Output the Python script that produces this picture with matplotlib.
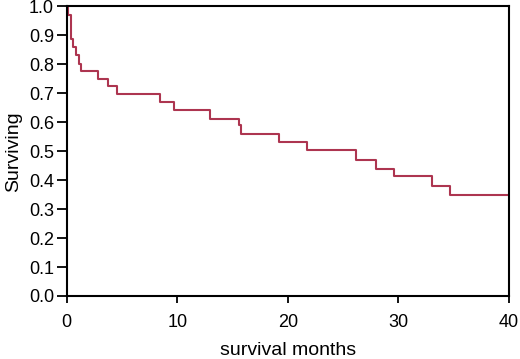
import matplotlib
matplotlib.use("Agg")
import matplotlib.pyplot as plt
import matplotlib.ticker as mtick

plt.rcParams["font.family"] = ["Liberation Sans", "DejaVu Sans"]

# Kaplan-Meier step points (time in months, survival fraction)
times = [0, 0.1, 0.39, 0.6, 0.81, 1.11, 1.35, 2.8, 3.76, 4.57, 8.43, 9.69,
         12.95, 15.57, 15.8, 19.2, 21.7, 26.15, 27.95, 29.58, 33.04, 34.64, 40]
surv = [1.0, 0.969, 0.888, 0.86, 0.831, 0.802, 0.777, 0.748, 0.724, 0.697,
        0.670, 0.641, 0.613, 0.59, 0.558, 0.532, 0.503, 0.471, 0.44, 0.414,
        0.38, 0.348, 0.348]

LINE = "#AD3550"

fig = plt.figure(figsize=(5.2, 3.59), dpi=100)
ax = fig.add_axes([0.128, 0.1755, 0.851, 0.8065])
ax.step(times, surv, where="post", color=LINE, linewidth=1.5)

ax.set_xlim(0, 40)
ax.set_ylim(0, 1.0)
ax.set_xticks([0, 10, 20, 30, 40])
ax.set_yticks([i / 10 for i in range(11)])
ax.yaxis.set_major_formatter(mtick.FormatStrFormatter("%.1f"))
ax.tick_params(direction="out", width=1.3, labelsize=13, colors="black")
ax.tick_params(axis="y", length=7.5, pad=1.5)
ax.tick_params(axis="x", length=4.8, pad=8)
for spine in ax.spines.values():
    spine.set_linewidth(1.5)
ax.set_xlabel("survival months", fontsize=14, labelpad=8)
ax.set_ylabel("Surviving", fontsize=14, labelpad=5)

fig.savefig("out.png", dpi=100, facecolor="white")
